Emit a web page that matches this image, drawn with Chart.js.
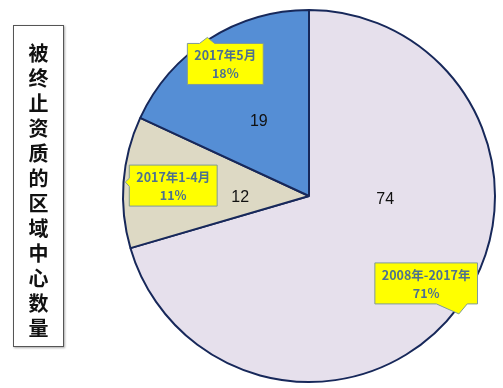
<!DOCTYPE html>
<html>
<head>
  <title>被终止资质的区域中心数量</title>
  <script src="https://cdn.jsdelivr.net/npm/chart.js"></script>
  <style>
    html, body { margin: 0; padding: 0; background: #fff; }
    #wrap { position: relative; width: 503px; height: 388px; }
    #pieChart { position: absolute; left: 0; top: 0; }
    #titleBox {
      position: absolute; left: 13px; top: 25px; width: 51px; height: 322px;
      border: 1.5px solid #555; box-shadow: 1px 1px 2px #aaa; background: #fff;
      font-family: "Noto Sans CJK SC", sans-serif; font-weight: bold; font-size: 20px;
      color: #111; box-sizing: border-box; padding-top: 14px;
    }
    #titleBox div { height: 25px; line-height: 25px; text-align: center; overflow: visible; }
  </style>
</head>
<body>
<div id="wrap">
  <canvas id="pieChart" width="503" height="388"></canvas>
  <div id="titleBox"></div>
</div>

<script>
  // chart data
  const titleText = '被终止资质的区域中心数量';
  const categories = ['2008年-2017年', '2017年1-4月', '2017年5月'];
  const counts = [74, 12, 19];
  const percentLabels = ['71%', '11%', '18%'];
  const sliceColors = ['#E6E0EC', '#DDD9C4', '#558ED5'];

  document.getElementById('titleBox').innerHTML =
    titleText.split('').map(c => '<div>' + c + '</div>').join('');

  // where labels sit, as fractions of the radius from the pie centre
  const valuePos = [[0.41, 0.02], [-0.37, 0.01], [-0.27, -0.40]];
  const calloutPos = [[0.63, 0.47], [-0.73, -0.056], [-0.45, -0.71]];
  // callout tails: side of box, base start/end (fraction along the side), tip offset in px
  const tails = [
    { side: 'bottom', a: 0.6, b: 0.9, tip: [84, 10] },
    { side: 'left', a: 0.32, b: 0.52, tip: [-4, 17] },
    { side: 'top', a: 0.16, b: 0.36, tip: [20, -6] }
  ];

  const labelPlugin = {
    id: 'labelPlugin',
    afterDatasetsDraw(chart) {
      const ctx = chart.ctx;
      const arcs = chart.getDatasetMeta(0).data;
      ctx.save();
      arcs.forEach((arc, i) => {
        const cx = arc.x, cy = arc.y, r = arc.outerRadius;
        // value inside slice
        ctx.fillStyle = '#111';
        ctx.font = '16px "Liberation Sans", sans-serif';
        ctx.textAlign = 'center';
        ctx.textBaseline = 'middle';
        ctx.fillText(String(counts[i]), cx + valuePos[i][0] * r, cy + valuePos[i][1] * r);

        // yellow callout
        ctx.font = 'bold 12.5px "Noto Sans CJK SC", sans-serif';
        const w = Math.max(ctx.measureText(categories[i]).width, ctx.measureText(percentLabels[i]).width) + 14;
        const h = 41;
        const bx = cx + calloutPos[i][0] * r - w / 2;
        const by = cy + calloutPos[i][1] * r - h / 2;
        const t = tails[i];
        ctx.beginPath();
        ctx.moveTo(bx, by);
        if (t.side === 'top') {
          ctx.lineTo(bx + w * t.a, by);
          ctx.lineTo(bx + t.tip[0], by + t.tip[1]);
          ctx.lineTo(bx + w * t.b, by);
        }
        ctx.lineTo(bx + w, by);
        ctx.lineTo(bx + w, by + h);
        if (t.side === 'bottom') {
          ctx.lineTo(bx + w * t.b, by + h);
          ctx.lineTo(bx + t.tip[0], by + h + t.tip[1]);
          ctx.lineTo(bx + w * t.a, by + h);
        }
        ctx.lineTo(bx, by + h);
        if (t.side === 'left') {
          ctx.lineTo(bx, by + h * t.b);
          ctx.lineTo(bx + t.tip[0], by + t.tip[1]);
          ctx.lineTo(bx, by + h * t.a);
        }
        ctx.closePath();
        ctx.fillStyle = '#FFFF00';
        ctx.fill();
        ctx.strokeStyle = '#7F9A9A';
        ctx.lineWidth = 1;
        ctx.stroke();
        ctx.fillStyle = '#4D7190';
        ctx.fillText(categories[i], bx + w / 2, by + 12);
        ctx.fillText(percentLabels[i], bx + w / 2, by + 30);
      });
      ctx.restore();
    }
  };

  new Chart(document.getElementById('pieChart').getContext('2d'), {
    type: 'pie',
    data: {
      labels: categories,
      datasets: [{
        data: counts,
        backgroundColor: sliceColors,
        borderColor: '#17285A',
        borderWidth: 2
      }]
    },
    options: {
      responsive: false,
      animation: false,
      layout: { padding: { left: 122, right: 7, top: 9, bottom: 5 } },
      plugins: {
        legend: { display: false },
        tooltip: { enabled: false }
      }
    },
    plugins: [labelPlugin]
  });
</script>
</body>
</html>
